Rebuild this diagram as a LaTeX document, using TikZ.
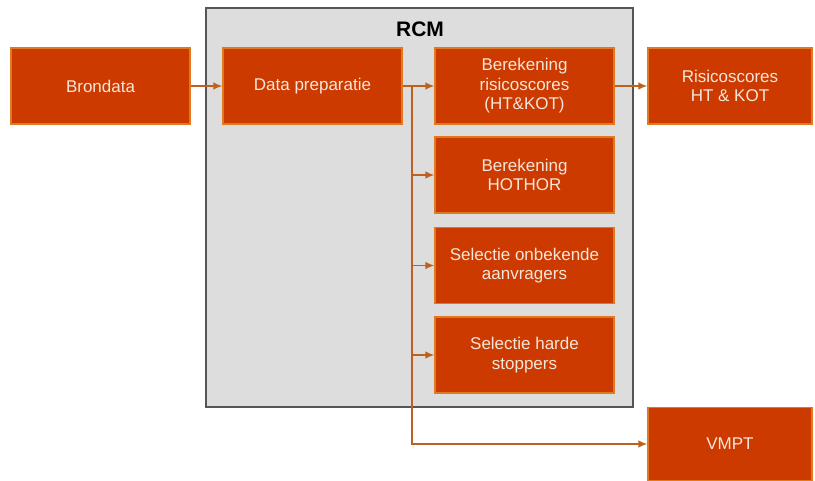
\documentclass[tikz,border=0pt]{standalone}
\usepackage{fontspec}
\setmainfont{Liberation Sans}
\usetikzlibrary{arrows.meta}
\definecolor{boxfill}{HTML}{CC3A00}
\definecolor{boxline}{HTML}{E07A20}
\definecolor{linkcol}{HTML}{C0601E}
\definecolor{panel}{HTML}{DDDDDD}
\definecolor{panelline}{HTML}{555555}
\definecolor{txt}{HTML}{F4E6DA}
\tikzset{
  obox/.style={draw=boxline, line width=1.2pt, fill=boxfill, text=txt, align=center,
    font=\fontsize{17}{19.5}\selectfont, inner sep=0pt},
  link/.style={draw=linkcol, line width=1.5pt, -{Latex[length=9pt,width=7.5pt]}},
}
\begin{document}
\begin{tikzpicture}[x=1pt,y=-1pt]
\useasboundingbox (0,0) rectangle (815,481);
\node[draw=panelline, line width=1.2pt, fill=panel, minimum width=427pt, minimum height=399pt, inner sep=0pt] (rcm) at (419.5,207.5) {};
\node[font=\bfseries\fontsize{21}{24}\selectfont] (rcmlabel) at (420,29) {RCM};
\node[obox, minimum width=179pt, minimum height=76pt] (bron) at (100.5,86) {Brondata};
\node[obox, minimum width=179pt, minimum height=76pt] (prep) at (312.5,86) {Data preparatie};
\node[obox, minimum width=179pt, minimum height=76pt] (risk) at (524.5,86) {Berekening\\risicoscores\\(HT\&KOT)};
\node[obox, minimum width=164pt, minimum height=76pt] (out) at (730,86) {Risicoscores\\HT \& KOT};
\node[obox, minimum width=179pt, minimum height=76pt] (hot) at (524.5,175) {Berekening\\HOTHOR};
\node[obox, minimum width=179pt, minimum height=76pt] (sel) at (524.5,265.5) {Selectie onbekende\\aanvragers};
\node[obox, minimum width=179pt, minimum height=76pt] (hard) at (524.5,355) {Selectie harde\\stoppers};
\node[obox, minimum width=164pt, minimum height=73pt] (vmpt) at (730,444) {VMPT};
\coordinate (j) at (412,86);
\coordinate (jb) at (412,444);
\draw[link] (bron) -- (prep);
\draw[link] (prep) -- (risk);
\draw[link] (risk) -- (out);
\draw[link] (j) -- (jb) -- (vmpt);
\draw[link] (j |- hot) -- (hot);
\draw[link] (j |- sel) -- (sel);
\draw[link] (j |- hard) -- (hard);
\end{tikzpicture}
\end{document}
